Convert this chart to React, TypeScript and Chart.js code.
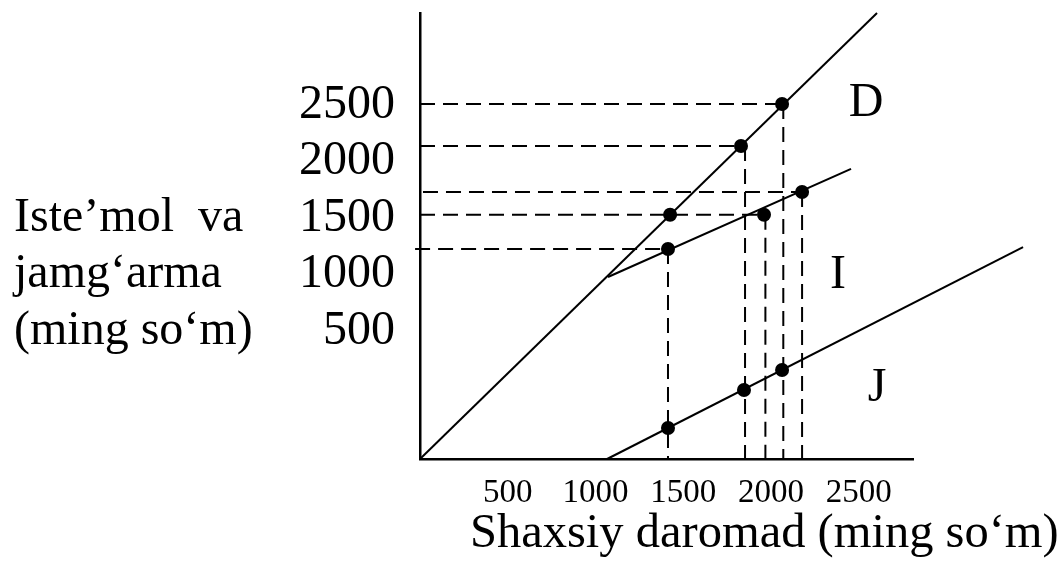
import React, { useEffect, useRef } from 'react';
import { Chart, registerables } from 'chart.js';

Chart.register(...registerables);

// ---- axes ----
const xTickValues = [500, 1000, 1500, 2000, 2500];
const yTickValues = [500, 1000, 1500, 2000, 2500];
const xMin = 0;
const xMax = 2809;
const yMin = -633;
const yMax = 3314;

// ---- solid lines (D, I, J) ----
const lineDX = [0, 2604];
const lineDY = [-633, 3314];
const lineIX = [1071, 2456];
const lineIY = [978, 1934];
const lineJX = [1066, 3436];
const lineJY = [-633, 1243];

// ---- marked points ----
const pointsDX = [1425, 1829, 2063];
const pointsDY = [1528, 2137, 2509];
const pointsIX = [1413, 1960, 2177];
const pointsIY = [1226, 1528, 1730];
const pointsJX = [1413, 1846, 2063];
const pointsJY = [-358, -22, 155];

// ---- dashed guide lines ----
const guideHY = [2509, 2137, 1730, 1528, 1226];
const guideHStartX = [0, 0, 17, 0, -28];
const guideHEndX = [2063, 1829, 2177, 1960, 1413];
const guideVX = [1413, 1852, 1968, 2070, 2177];
const guideVTopY = [1226, 2137, 1528, 2509, 1730];

// ---- texts ----
const seriesNames = ['D', 'I', 'J'];
const seriesLabelX = [2541, 2382, 2604];
const seriesLabelY = [2518, 996, -4];
const yTitleLines = ['Iste\u2019mol  va', 'jamg\u2018arma', '(ming so\u2018m)'];
const yTitleRows = [1500, 1000, 500];
const xTitle = 'Shaxsiy daromad (ming so\u2018m)';

const SERIF = "'Liberation Serif', 'Times New Roman', serif";

const zip = (xs: number[], ys: number[]) => xs.map((x, i) => ({ x, y: ys[i] }));

const annotationPlugin = {
  id: 'annotations',
  afterDraw(chart: any) {
    const { ctx } = chart;
    const xs = chart.scales.x;
    const ys = chart.scales.y;
    ctx.save();
    ctx.fillStyle = '#000';
    ctx.font = `48px ${SERIF}`;
    ctx.textBaseline = 'middle';
    ctx.textAlign = 'left';
    yTitleLines.forEach((t, i) => {
      ctx.fillText(t, 14, ys.getPixelForValue(yTitleRows[i]));
    });
    ctx.textAlign = 'center';
    seriesNames.forEach((n, i) => {
      ctx.fillText(n, xs.getPixelForValue(seriesLabelX[i]), ys.getPixelForValue(seriesLabelY[i]));
    });
    ctx.font = `48.5px ${SERIF}`;
    ctx.textAlign = 'left';
    ctx.textBaseline = 'alphabetic';
    ctx.fillText(xTitle, 470, 547);
    ctx.restore();
  },
};

export default function App() {
  const ref = useRef<HTMLCanvasElement>(null);

  useEffect(() => {
    if (!ref.current) return;
    const solid = (xs: number[], ys: number[]) => ({
      data: zip(xs, ys),
      showLine: true,
      borderColor: '#000',
      borderWidth: 2,
      pointRadius: 0,
      clip: false as any,
    });
    const dashed = (pts: { x: number; y: number }[]) => ({
      data: pts,
      showLine: true,
      borderColor: '#000',
      borderWidth: 2,
      borderDash: [15, 8],
      pointRadius: 0,
      clip: false as any,
    });
    const points = {
      data: [...zip(pointsDX, pointsDY), ...zip(pointsIX, pointsIY), ...zip(pointsJX, pointsJY)],
      showLine: false,
      pointRadius: 7,
      pointBackgroundColor: '#000',
      pointBorderWidth: 0,
      clip: false as any,
    };
    const datasets: any[] = [
      points,
      solid(lineDX, lineDY),
      solid(lineIX, lineIY),
      solid(lineJX, lineJY),
      ...guideHY.map((yv, i) => dashed([{ x: guideHStartX[i], y: yv }, { x: guideHEndX[i], y: yv }])),
      ...guideVX.map((xv, i) => dashed([{ x: xv, y: guideVTopY[i] }, { x: xv, y: yMin }])),
    ];

    const chart = new Chart(ref.current, {
      type: 'scatter',
      data: { datasets },
      options: {
        animation: false,
        responsive: false,
        layout: { padding: { left: 0, top: 13, right: 150, bottom: 0 } },
        plugins: {
          legend: { display: false },
          tooltip: { enabled: false },
        },
        scales: {
          x: {
            type: 'linear',
            min: xMin,
            max: xMax,
            grid: { display: false, drawTicks: false },
            border: { display: true, color: '#000', width: 2.5 },
            ticks: {
              color: '#000',
              font: { family: SERIF, size: 33 },
              padding: 15,
              autoSkip: false,
              maxRotation: 0,
              minRotation: 0,
              callback: (v: any) => String(v),
            },
            afterBuildTicks: (s: any) => {
              s.ticks = xTickValues.map((v) => ({ value: v }));
            },
            afterFit: (s: any) => {
              s.height = 108;
              s.paddingLeft = 0;
              s.paddingRight = 0;
            },
          },
          y: {
            type: 'linear',
            min: yMin,
            max: yMax,
            grid: { display: false, drawTicks: false },
            border: { display: true, color: '#000', width: 2.5 },
            ticks: {
              color: '#000',
              font: { family: SERIF, size: 48 },
              padding: 25,
              autoSkip: false,
              callback: (v: any) => String(v),
            },
            afterBuildTicks: (s: any) => {
              s.ticks = yTickValues.map((v) => ({ value: v }));
            },
            afterFit: (s: any) => {
              s.width = 420;
              s.paddingTop = 0;
              s.paddingBottom = 0;
            },
          },
        },
      } as any,
      plugins: [annotationPlugin],
    });
    return () => chart.destroy();
  }, []);

  return (
    <div style={{ position: 'absolute', left: 0, top: 0, width: 1063, height: 567, background: '#fff' }}>
      <canvas ref={ref} width={1063} height={567} />
    </div>
  );
}
